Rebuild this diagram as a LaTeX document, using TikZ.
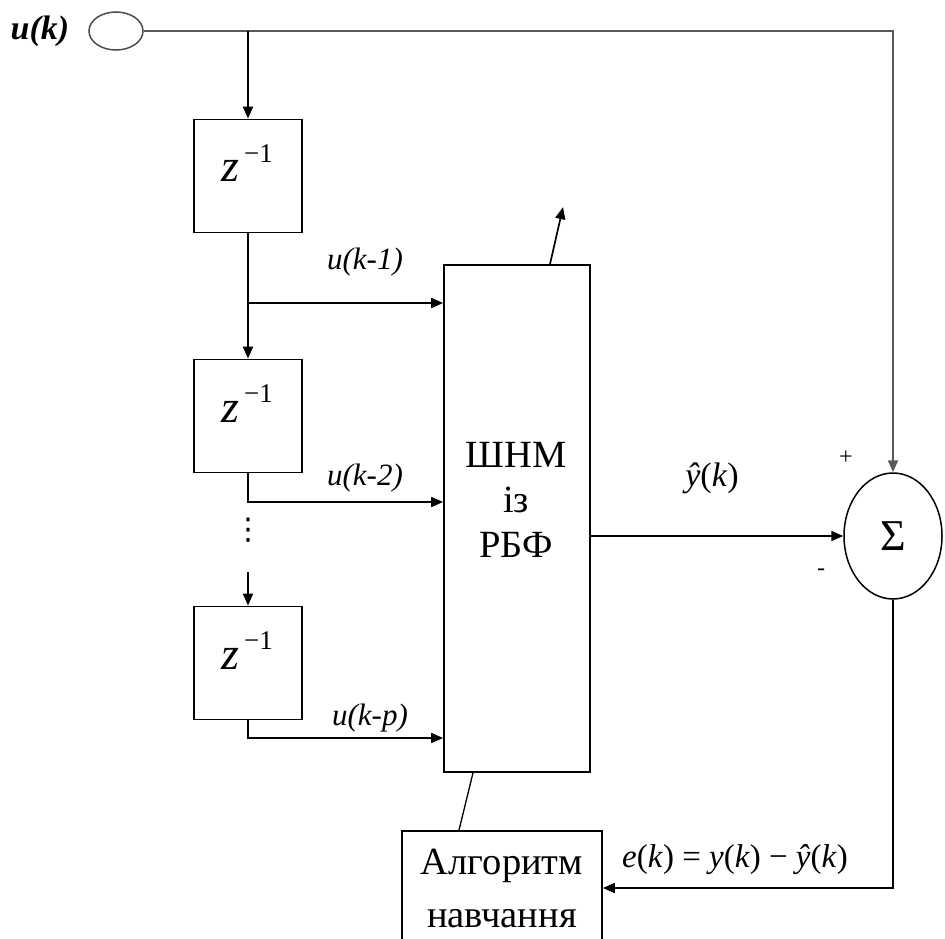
\documentclass[tikz,border=0pt]{standalone}
\usepackage{fontspec}
\setmainfont{Liberation Serif}
\newfontfamily\dejavu{DejaVu Sans}
\usetikzlibrary{arrows.meta,shapes.geometric,calc}
\begin{document}
\begin{tikzpicture}[x=1pt,y=-1pt,
  ln/.style={line width=1.7pt,draw=black},
  arr/.style={ln,-{Triangle[length=12pt,width=10pt]}},
  zbox/.style={draw,line width=1.7pt,minimum width=108pt,minimum height=113pt,inner sep=0pt},
  ztext/.style={inner sep=0pt,anchor=base west},
  lab/.style={font=\fontsize{31}{31}\selectfont\itshape,inner sep=0pt},
  big/.style={font=\fontsize{38.5}{45}\selectfont}
]
\useasboundingbox (0,0) rectangle (945,939);
\clip (0,0) rectangle (945,939);
\newcommand{\zinv}{{\fontsize{46}{46}\selectfont\itshape z}\hspace{5pt}\raisebox{20pt}{\fontsize{27}{27}\selectfont −1}}
% input
\node[draw=black!70,line width=1.5pt,ellipse,minimum width=54pt,minimum height=38pt,inner sep=0pt] (in) at (116,31) {};
\node[inner sep=0pt,font=\fontsize{34}{34}\selectfont\bfseries\itshape] (ulab) at (40,31) {u(k)};
% delay boxes
\node[zbox] (z1) at (248,176) {};
\node[zbox] (z2) at (248,416) {};
\node[zbox] (z3) at (248,663) {};
\node[ztext] (z1t) at (221,182) {\zinv};
\node[ztext] (z2t) at (221,422) {\zinv};
\node[ztext] (z3t) at (221,669) {\zinv};
\node[inner sep=0pt,font=\dejavu\fontsize{30}{30}\selectfont] (dots) at (248,530) {⋮};
% network
\node[draw,line width=1.7pt,minimum width=146pt,minimum height=507pt,inner sep=0pt] (nn) at (517,518.5) {};
\node[big,inner sep=0pt,align=center] (nntxt) at (516,500) {ШНМ\\із\\РБФ};
% sum
\node[draw,line width=1.5pt,ellipse,minimum width=98pt,minimum height=126pt,inner sep=0pt,font=\fontsize{44}{44}\selectfont] (sum) at (893,536) {Σ};
% algorithm
\node[draw,line width=1.7pt,minimum width=200pt,minimum height=114pt,inner sep=0pt,align=center,big] (alg) at (502,888) {Алгоритм\\[8pt]навчання};
% connectors
\coordinate (b0) at (248,31);
\draw[arr,draw=black!65,line width=2pt] (in.east) -| (sum.north);
\draw[arr] (b0) -- (z1.north);
\draw[arr] (z1.south) -- (z2.north);
\coordinate (b1) at (248,303);
\draw[arr] (b1) -- (b1 -| nn.west);
\coordinate (b2) at (248,502);
\draw[arr] (z2.south) |- (b2 -| nn.west);
\coordinate (d1) at (248,572);
\draw[arr] (d1) -- (z3.north);
\coordinate (b3) at (248,738);
\draw[arr] (z3.south) |- (b3 -| nn.west);
\draw[arr] ([xshift=33pt]nn.north) -- ++(13,-57);
\draw[arr] (nn.east |- sum.west) -- (sum.west);
\draw[arr] (sum.south) |- (alg.east);
\draw[ln,line width=1.3pt] ([xshift=-44pt]nn.south) -- ([xshift=-43pt]alg.north);
% labels
\node[lab] (l1) at (365,262) {u(k-1)};
\node[lab] (l2) at (365,478) {u(k-2)};
\node[lab] (l3) at (370,718) {u(k-p)};
\node[inner sep=0pt,font=\fontsize{34}{34}\selectfont] (yh) at (712,478) {\textit{ŷ}(\textit{k})};
\node[inner sep=0pt,font=\fontsize{24}{24}\selectfont] (plus) at (846,458) {+};
\node[inner sep=0pt,font=\fontsize{24}{24}\selectfont] (minus) at (821,572) {-};
\node[inner sep=0pt,font=\fontsize{33}{33}\selectfont] (err) at (735,860) {\textit{e}(\textit{k}) = \textit{y}(\textit{k}) − \textit{ŷ}(\textit{k})};
\end{tikzpicture}
\end{document}
